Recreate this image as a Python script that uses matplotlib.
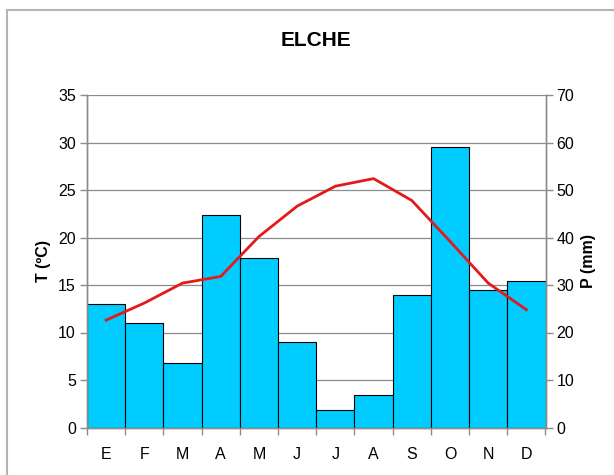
#!/usr/bin/env python3
"""Climograph for Elche: monthly precipitation bars and temperature line."""

import matplotlib
matplotlib.use("Agg")
import matplotlib.pyplot as plt
from matplotlib.lines import Line2D
import numpy as np

MONTHS = ["E", "F", "M", "A", "M", "J", "J", "A", "S", "O", "N", "D"]
PRECIP_MM = [26.1, 22.0, 13.6, 44.7, 35.6, 17.9, 3.6, 6.8, 27.8, 59.0, 29.0, 30.9]
TEMP_C = [11.3, 13.1, 15.2, 15.9, 20.1, 23.3, 25.4, 26.2, 23.9, 19.6, 15.2, 12.4]
TEMP_TICKS = [0, 5, 10, 15, 20, 25, 30, 35]
PRECIP_TICKS = [0, 10, 20, 30, 40, 50, 60, 70]

BAR_COLOR = "#00ccff"
LINE_COLOR = "#e41a1a"
AXIS_GRAY = "#8c8c8c"
TICK_FS = 11.5

plt.rcParams["font.family"] = ["Liberation Sans", "DejaVu Sans"]

fig = plt.figure(figsize=(6.14, 4.75), dpi=100)
ax = fig.add_axes([87 / 614, 1 - 427.5 / 475, 458.5 / 614, 332.5 / 475])
ax2 = ax.twinx()

x = np.arange(len(MONTHS))

# precipitation on the right axis, drawn behind the temperature line
ax2.bar(x, PRECIP_MM, width=1.0, color=BAR_COLOR, edgecolor="black", linewidth=0.8, zorder=2)
ax2.set_ylim(0, 70)
ax2.set_yticks(PRECIP_TICKS)
ax2.grid(axis="y", color=AXIS_GRAY, linewidth=0.9, zorder=0)
ax2.set_axisbelow(True)

ax.set_ylim(0, 35)
ax.set_yticks(TEMP_TICKS)
ax.set_xlim(-0.5, len(MONTHS) - 0.5)

# temperature line on top: put the primary axes in front of the twin
ax.set_zorder(ax2.get_zorder() + 1)
ax.patch.set_visible(False)
ax.plot(x, TEMP_C, color=LINE_COLOR, linewidth=2.0, zorder=5)

# month labels centred on bars, tick marks at bar boundaries
ax.set_xticks(np.arange(-0.5, len(MONTHS)), labels=[])
ax.set_xticks(x, labels=MONTHS, minor=True)
ax.tick_params(axis="x", which="major", direction="out", length=5, color=AXIS_GRAY, width=1)
ax.tick_params(axis="x", which="minor", length=0, labelsize=TICK_FS, pad=14)
ax.tick_params(axis="y", direction="out", length=5, color=AXIS_GRAY, width=1, labelsize=TICK_FS, pad=3)
ax2.tick_params(axis="y", direction="out", length=5, color=AXIS_GRAY, width=1, labelsize=TICK_FS, pad=3)

for a in (ax, ax2):
    a.spines["top"].set_visible(False)
    for side in ("left", "right", "bottom"):
        a.spines[side].set_color(AXIS_GRAY)
        a.spines[side].set_linewidth(1)

ax.set_ylabel("T (ºC)", fontsize=11.5, fontweight="bold", labelpad=5)
ax2.set_ylabel("P (mm)", fontsize=11.5, fontweight="bold", labelpad=5)

fig.text(316 / 614, 1 - 40 / 475, "ELCHE", ha="center", va="center", fontsize=15, fontweight="bold")

# outer chart frame (partly cropped in the original)
frame_color = "#b4b4b4"
fig.add_artist(Line2D([7 / 614, 7 / 614], [0, 1 - 10 / 475], transform=fig.transFigure,
                      color=frame_color, linewidth=1.5))
fig.add_artist(Line2D([7 / 614, 1], [1 - 10 / 475, 1 - 10 / 475], transform=fig.transFigure,
                      color=frame_color, linewidth=1.5))

fig.savefig("out.png", dpi=100)
